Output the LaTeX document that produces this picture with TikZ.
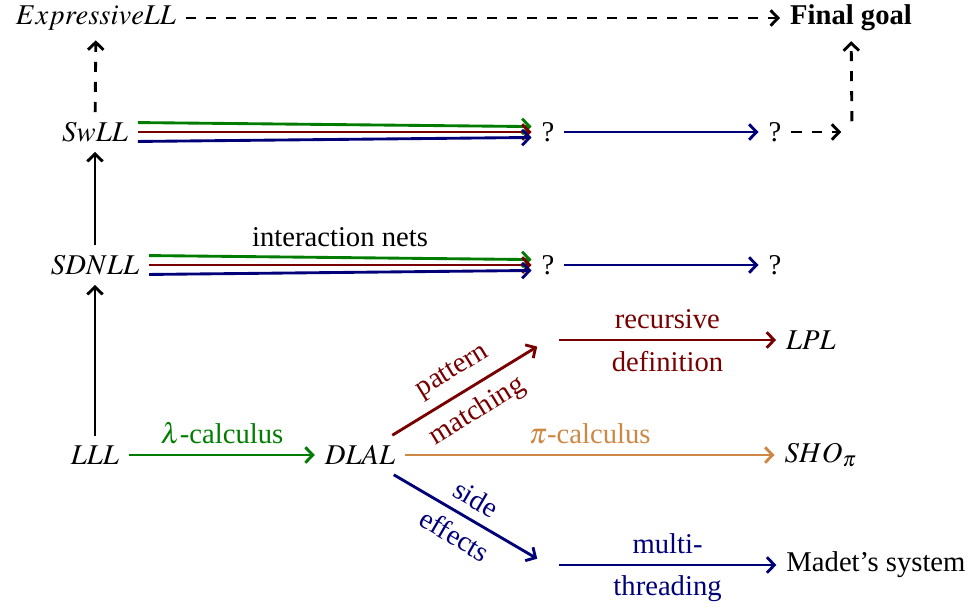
\documentclass[tikz,border=0pt]{standalone}
\usepackage{mathptmx}
\usepackage[no-math]{fontspec}
\setmainfont{Liberation Serif}
\usetikzlibrary{arrows.meta,positioning}

\definecolor{lamcol}{RGB}{0,125,0}
\definecolor{reccol}{RGB}{120,0,0}
\definecolor{effcol}{RGB}{0,0,120}
\definecolor{picol}{RGB}{204,136,68}

\begin{document}
\begin{tikzpicture}[x=0.1227mm, y=-0.1227mm,
        hole/.style={minimum size=2.5mm, inner sep=0pt},
        arr/.style={line width=1pt, -{Straight Barb[length=2.6pt, width=5.4pt]}},
        darr/.style={arr, dash pattern=on 3.5pt off 3.5pt}]
            \useasboundingbox (0,0) rectangle (972,607);

            % Nodes (rows top to bottom)
            \node (exll) at (96,18) {$ExpressiveLL$};
            \node (goal) at (851,18) {\textbf{Final goal}};

            \node (swll) at (95,132) {$SwLL$};
            \node (q1) at (548,132) {?};
            \node (q2) at (775,132) {?};
            \node[hole] (e2) at (852,132) {};

            \node (sdnll) at (95,265) {$SDNLL$};
            \node (q3) at (548,265) {?};
            \node (q4) at (775,265) {?};

            \node[hole] (e3) at (548,340) {};
            \node (lpl) at (811,340) {$LPL$};

            \node (lll) at (95,455) {$LLL$};
            \node (dlal) at (360,455) {$DLAL$};
            \node (sho) at (821,455) {$SHO_\pi$};

            \node[hole] (e4) at (548,565) {};
            \node (madet) at (876,565) {Madet's system};

            % Goal (dashed)
            \draw[darr] (exll) -- (goal);
            \draw[darr] (swll) -- (exll);
            \draw[darr] (q2) -- (e2);
            \draw[darr] (e2) -- (goal);

            % Left column
            \draw[arr] (lll) -- (sdnll);
            \draw[arr] (sdnll) -- (swll);

            % Triple arrows
            \foreach \src/\dst in {swll/q1, sdnll/q3} {
                \draw[arr, lamcol] ([yshift=3.3pt]\src.east) -- ([yshift=1.9pt]\dst.west);
                \draw[arr, reccol] (\src.east) -- (\dst.west);
                \draw[arr, effcol] ([yshift=-3.3pt]\src.east) -- ([yshift=-1.9pt]\dst.west);
            }
            \node at (340,237) {interaction nets};
            \draw[arr, effcol] (q1) -- (q2);
            \draw[arr, effcol] (q3) -- (q4);

            % From LLL and DLAL
            \draw[arr, lamcol] (lll) -- node[above] {$\lambda$-calculus} (dlal);
            \draw[arr, picol] (dlal) -- node[above] {$\pi$-calculus} (sho);
            \draw[arr, reccol] (dlal) -- node[above, sloped] {pattern}
                node[below, sloped] {matching} (e3);
            \draw[arr, reccol] (e3) -- node[above] {recursive}
                node[below] {definition} (lpl);
            \draw[arr, effcol] (dlal) -- node[above, sloped] {side}
                node[below, sloped] {effects} (e4);
            \draw[arr, effcol] (e4) -- node[above] {multi-}
                node[below] {threading} (madet);
        \end{tikzpicture}
\end{document}
